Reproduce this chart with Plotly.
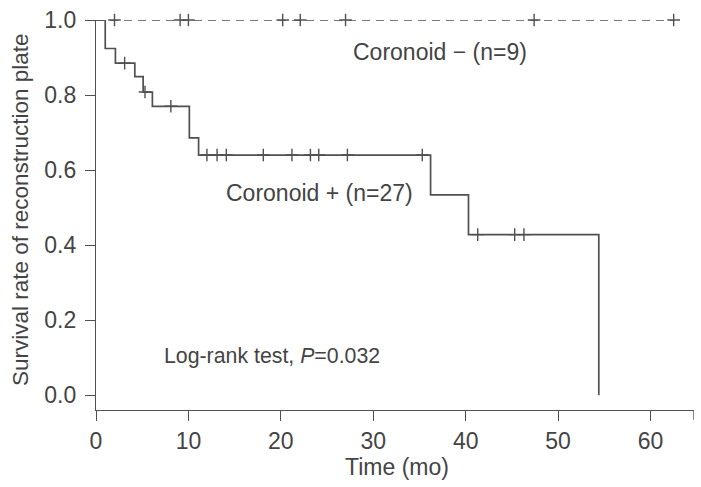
import plotly.graph_objects as go

# Coronoid + (n=27): Kaplan-Meier step curve
pos_times = [0, 1.0, 2.1, 4.2, 5.1, 6.1, 10.1, 11.1, 36.2, 40.3, 54.4]
pos_surv = [1.0, 0.924, 0.885, 0.849, 0.808, 0.770, 0.686, 0.640, 0.534, 0.428, 0.0]
pos_cens_t = [3.1, 5.3, 8.1, 12.0, 13.1, 14.1, 18.1, 21.2, 23.2, 24.1, 27.2, 35.3, 41.3, 45.3, 46.3]
pos_cens_s = [0.885, 0.808, 0.770, 0.640, 0.640, 0.640, 0.640, 0.640, 0.640, 0.640, 0.640, 0.640,
              0.428, 0.428, 0.428]

# Coronoid - (n=9): no events
neg_times = [0, 62.5]
neg_surv = [1.0, 1.0]
neg_cens_t = [2.0, 9.1, 10.0, 20.2, 22.1, 27.0, 47.4, 62.5]
neg_cens_s = [1.0] * len(neg_cens_t)

x_ticks = [0, 10, 20, 30, 40, 50, 60]
y_ticks = [0.0, 0.2, 0.4, 0.6, 0.8, 1.0]
y_tick_text = ["0.0", "0.2", "0.4", "0.6", "0.8", "1.0"]

LINE = "#505050"
TXT = "#444444"
FONT = "Liberation Sans, Arial, sans-serif"

fig = go.Figure()
fig.add_trace(go.Scatter(x=neg_times, y=neg_surv, mode="lines",
                         line=dict(color=LINE, width=1.5, dash="8px,6px"),
                         cliponaxis=False, showlegend=False))
fig.add_trace(go.Scatter(x=neg_cens_t, y=neg_cens_s, mode="markers",
                         marker=dict(symbol="cross-thin", size=9, line=dict(color=LINE, width=1.4)),
                         cliponaxis=False, showlegend=False))
fig.add_trace(go.Scatter(x=pos_times, y=pos_surv, mode="lines", line_shape="hv",
                         line=dict(color=LINE, width=1.7),
                         cliponaxis=False, showlegend=False))
fig.add_trace(go.Scatter(x=pos_cens_t, y=pos_cens_s, mode="markers",
                         marker=dict(symbol="cross-thin", size=9, line=dict(color=LINE, width=1.4)),
                         cliponaxis=False, showlegend=False))

fig.add_annotation(x=27.6, y=0.916, xref="x", yref="y", text="Coronoid − (n=9)",
                   showarrow=False, xanchor="left", yanchor="middle",
                   font=dict(family=FONT, size=23, color=TXT))
fig.add_annotation(x=13.8, y=0.539, xref="x", yref="y", text="Coronoid + (n=27)",
                   showarrow=False, xanchor="left", yanchor="middle",
                   font=dict(family=FONT, size=23, color=TXT))
fig.add_annotation(x=7.15, y=0.105, xref="x", yref="y", text="Log-rank test, <i>P</i>=0.032",
                   showarrow=False, xanchor="left", yanchor="middle",
                   font=dict(family=FONT, size=21.3, color=TXT))

# axis titles
fig.add_annotation(x=-0.127, y=0.5127, xref="paper", yref="paper",
                   text="Survival rate of reconstruction plate", textangle=-90,
                   showarrow=False, xanchor="center", yanchor="middle",
                   font=dict(family=FONT, size=22.5, color=TXT))
fig.add_annotation(x=0.504, y=-0.1468, xref="paper", yref="paper", text="Time (mo)",
                   showarrow=False, xanchor="center", yanchor="middle",
                   font=dict(family=FONT, size=23, color=TXT))

# end tick at axis end
fig.add_shape(type="line", xref="x", yref="paper", x0=64.7, x1=64.7, y0=0, y1=-0.025,
              line=dict(color=LINE, width=1.4))

fig.update_layout(
    width=701, height=487,
    margin=dict(l=96, r=7, t=15, b=77),
    paper_bgcolor="white", plot_bgcolor="white",
    font=dict(family=FONT, size=23, color=TXT),
    xaxis=dict(range=[0, 64.7], tickvals=x_ticks, ticks="outside", ticklen=10,
               tickwidth=1.4, tickcolor=LINE, showline=True, linecolor=LINE, linewidth=1.4,
               showgrid=False, zeroline=False,
               tickfont=dict(size=23, color=TXT)),
    yaxis=dict(range=[-0.0395, 1.0], tickvals=y_ticks, ticktext=y_tick_text, ticks="outside",
               ticklen=10, tickwidth=1.4, tickcolor=LINE, showline=True, linecolor=LINE,
               linewidth=1.4, showgrid=False, zeroline=False, ticklabelstandoff=4,
               tickfont=dict(size=23, color=TXT)),
)

fig.write_html("out.html")
